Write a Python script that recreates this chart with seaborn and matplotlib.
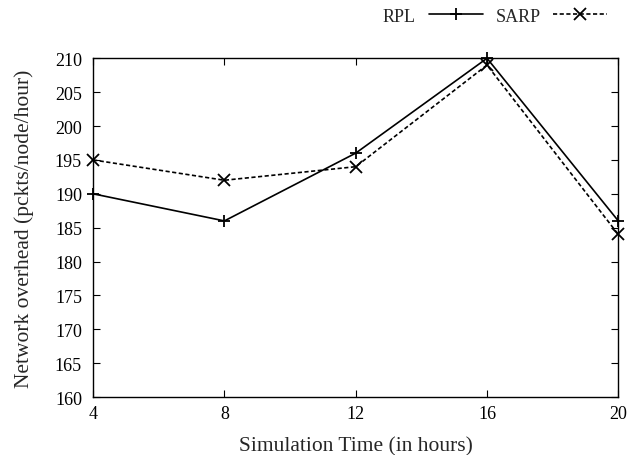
import matplotlib
matplotlib.use("Agg")
import matplotlib.pyplot as plt
import seaborn as sns
import pandas as pd

time_hours = [4, 8, 12, 16, 20]
rpl = [190, 186, 196, 210, 186]
sarp = [195, 192, 194, 209, 184]
y_ticks = [160, 165, 170, 175, 180, 185, 190, 195, 200, 205, 210]

sns.set_theme(style="white")
plt.rcParams['font.family'] = ['Liberation Serif', 'DejaVu Serif']

df = pd.DataFrame({
    "time": time_hours * 2,
    "value": rpl + sarp,
    "series": ["RPL"] * len(rpl) + ["SARP"] * len(sarp),
})

fig = plt.figure(figsize=(6.29, 4.56), dpi=100)
ax = fig.add_axes([0.148, 0.127, 0.835, 0.743])

sns.lineplot(data=df, x="time", y="value", hue="series", style="series",
             palette={"RPL": "black", "SARP": "black"},
             dashes={"RPL": (None, None), "SARP": (2.5, 1.5)},
             markers={"RPL": "+", "SARP": "x"},
             markersize=9, markeredgewidth=1.3, markeredgecolor="black",
             linewidth=1.2, ax=ax, legend=True, clip_on=False)

ax.set_xlim(4, 20)
ax.set_ylim(160, 210)
ax.set_xticks(time_hours)
ax.set_yticks(y_ticks)
ax.tick_params(direction="in", length=5, width=0.8, top=True, right=True,
               labelsize=13, colors="black", pad=6, bottom=True, left=True)
ax.tick_params(axis='y', pad=8)
for s in ax.spines.values():
    s.set_color("black")
    s.set_linewidth(1.0)
ax.set_xlabel("Simulation Time (in hours)", fontsize=15.5, labelpad=10)
ax.set_ylabel("Network overhead (pckts/node/hour)", fontsize=15.5, labelpad=15)

handles, labels = ax.get_legend_handles_labels()
for h in handles:
    h.set_markeredgecolor("black")
ax.legend(handles, labels, ncol=2, frameon=False, markerfirst=False,
          loc="upper right", bbox_to_anchor=(1.01, 1.197), fontsize=13,
          handlelength=3.0, columnspacing=0.7, handletextpad=0.7)

fig.savefig("out.png", dpi=100)
